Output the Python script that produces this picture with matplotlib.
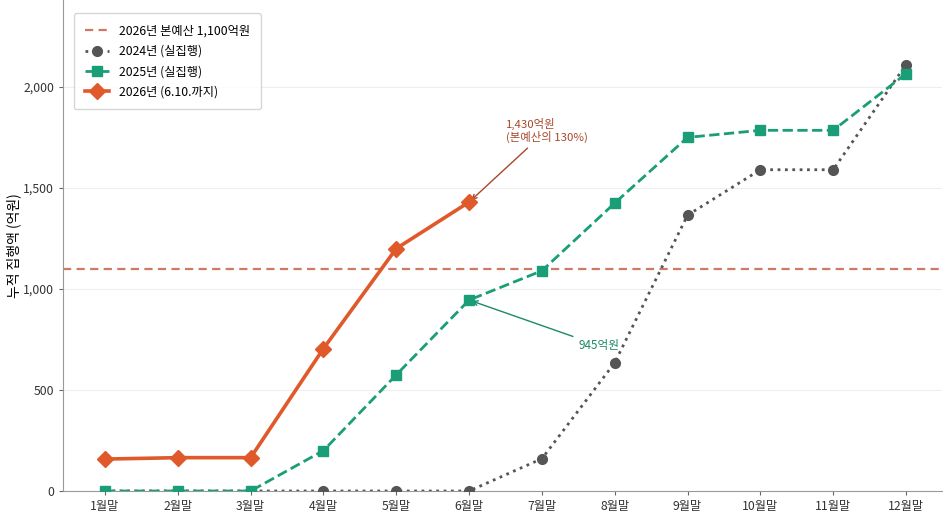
import matplotlib
matplotlib.use("Agg")
import matplotlib.pyplot as plt

plt.rcParams['font.family'] = ['Noto Sans CJK KR', 'DejaVu Sans']

months = ["1월말", "2월말", "3월말", "4월말", "5월말", "6월말",
          "7월말", "8월말", "9월말", "10월말", "11월말", "12월말"]
exec_2024 = [0, 0, 0, 0, 0, 0, 160, 635, 1365, 1590, 1590, 2110]
exec_2025 = [0, 0, 0, 200, 575, 945, 1090, 1425, 1750, 1785, 1785, 2065]
exec_2026 = [158, 165, 165, 705, 1200, 1430]
budget_2026 = 1100

c26 = '#E0592A'
c25 = '#1A9E77'
c24 = '#555555'
cb = '#CD7A62'

fig = plt.figure(figsize=(9.43, 5.19), dpi=100)
ax = fig.add_axes([63/943, 28/519, (942.4-63)/943, 491/519])

x = list(range(len(months)))
ax.axhline(budget_2026, color=cb, ls=(0, (3.7, 2.4)), lw=1.6, label='2026년 본예산 1,100억원', zorder=2)
ax.plot(x, exec_2024, color=c24, ls=':', lw=2, marker='o', ms=7, label='2024년 (실집행)', zorder=3)
ax.plot(x, exec_2025, color=c25, ls='--', lw=2, marker='s', ms=7, label='2025년 (실집행)', zorder=4)
ax.plot(x[:len(exec_2026)], exec_2026, color=c26, ls='-', lw=2.6, marker='D', ms=8.5,
        label='2026년 (6.10.까지)', zorder=5)

ax.annotate('1,430억원\n(본예산의 130%)', xy=(5, exec_2026[5]), xytext=(5.5, 1720),
            color='#A9472A', fontsize=8.2, ha='left', va='bottom', linespacing=1.15,
            arrowprops=dict(arrowstyle='->', color='#A9472A', lw=1))
ax.annotate('945억원', xy=(5, exec_2025[5]), xytext=(6.5, 720),
            color='#1A8A68', fontsize=8.4, ha='left', va='center',
            arrowprops=dict(arrowstyle='->', color='#1A8A68', lw=1))

ax.set_xlim(-0.577, 11.5)
ax.set_ylim(0, 2430)
ax.set_xticks(x)
ax.set_xticklabels(months, fontsize=8.8)
ax.set_yticks([0, 500, 1000, 1500, 2000])
ax.set_yticklabels(['0', '500', '1,000', '1,500', '2,000'], fontsize=8.8)
ax.set_ylabel('누적 집행액 (억원)', fontsize=10)
ax.yaxis.set_label_coords(-0.048, 0.5)
ax.grid(axis='y', color='#EEEEEE', lw=0.8, zorder=0)
ax.set_axisbelow(True)
for s in ['top', 'right']:
    ax.spines[s].set_visible(False)
for s in ['left', 'bottom']:
    ax.spines[s].set_color('#999999')
ax.tick_params(colors='#333333', length=3, color='#666666')

ax.legend(loc='upper left', fontsize=8.8, frameon=True, edgecolor='#CCCCCC',
          borderpad=0.9, labelspacing=0.6, handlelength=2.0,
          bbox_to_anchor=(0.005, 0.985))

fig.savefig('out.png', dpi=100)
